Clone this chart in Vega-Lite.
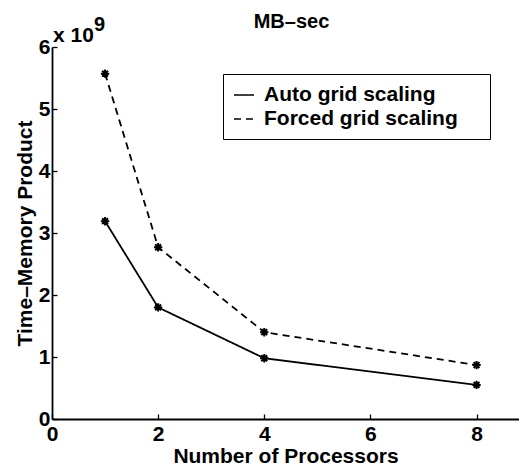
{
  "$schema": "https://vega.github.io/schema/vega-lite/v6.json",
  "width": 467,
  "height": 372,
  "autosize": {"type": "none"},
  "padding": {"left": 52, "top": 47, "right": 0, "bottom": 55},
  "background": "white",
  "title": {"text": "MB\u2013sec", "fontSize": 20, "font": "Liberation Sans", "fontWeight": "bold", "color": "black", "offset": -17, "anchor": "middle", "frame": "group", "dx": 6},
  "config": {"view": {"stroke": null}, "font": "Liberation Sans"},
  "data": {"values": [
    {"n": 1, "v": 3.19e9, "s": "Auto grid scaling"},
    {"n": 2, "v": 1.80e9, "s": "Auto grid scaling"},
    {"n": 4, "v": 0.98e9, "s": "Auto grid scaling"},
    {"n": 8, "v": 0.55e9, "s": "Auto grid scaling"},
    {"n": 1, "v": 5.57e9, "s": "Forced grid scaling"},
    {"n": 2, "v": 2.77e9, "s": "Forced grid scaling"},
    {"n": 4, "v": 1.40e9, "s": "Forced grid scaling"},
    {"n": 8, "v": 0.87e9, "s": "Forced grid scaling"}
  ]},
  "layer": [
    {
      "mark": {"type": "line", "color": "black", "strokeWidth": 1.8},
      "encoding": {
        "x": {"field": "n", "type": "quantitative", "scale": {"domain": [0, 8.8], "nice": false},
          "axis": {"values": [0, 2, 4, 6, 8], "title": "Number of Processors", "titleFontSize": 21, "titleFontWeight": "bold", "titleColor": "black", "titlePadding": 1,
            "labelFontSize": 21, "labelFontWeight": "bold", "labelColor": "black", "labelPadding": 9, "tickSize": -5, "tickColor": "black", "domainColor": "black", "domainWidth": 1.8, "tickWidth": 1.3, "grid": false, "labelFlush": false}},
        "y": {"field": "v", "type": "quantitative", "scale": {"domain": [0, 6e9], "nice": false},
          "axis": {"values": [0, 1e9, 2e9, 3e9, 4e9, 5e9, 6e9], "labelExpr": "format(datum.value/1e9, 'd')", "title": "Time\u2013Memory Product", "titleFontSize": 21, "titleFontWeight": "bold", "titleColor": "black", "titlePadding": 3,
            "labelFontSize": 21, "labelFontWeight": "bold", "labelColor": "black", "labelPadding": 7, "tickSize": -5, "tickColor": "black", "domainColor": "black", "domainWidth": 1.8, "tickWidth": 1.3, "grid": false, "labelFlush": false}},
        "strokeDash": {"field": "s", "type": "nominal", "scale": {"domain": ["Auto grid scaling", "Forced grid scaling"], "range": [[1, 0], [7, 5]]},
          "legend": {"title": "\u00a0", "titleOrient": "right", "titlePadding": 22, "orient": "none", "legendX": 171, "legendY": 27, "strokeColor": "black", "fillColor": "white", "padding": 10, "labelFontSize": 21, "labelFontWeight": "bold", "labelColor": "black", "labelLimit": 400, "symbolType": "stroke", "symbolSize": 400, "symbolStrokeWidth": 1.6, "symbolStrokeColor": "black", "symbolDash": [1, 0], "rowPadding": 3, "labelOffset": 9}}
      }
    },
    {
      "mark": {"type": "point", "shape": "M-1,0L1,0M0,-1L0,1M-0.7,-0.7L0.7,0.7M-0.7,0.7L0.7,-0.7", "filled": false, "stroke": "black", "strokeWidth": 2, "size": 70, "opacity": 1},
      "encoding": {
        "x": {"field": "n", "type": "quantitative"},
        "y": {"field": "v", "type": "quantitative"}
      }
    },
    {
      "data": {"values": [{"n": 0, "v": 6e9, "t": "x 10"}]},
      "mark": {"type": "text", "align": "left", "baseline": "alphabetic", "dx": 1, "dy": -5, "fontSize": 21, "fontWeight": "bold", "color": "black"},
      "encoding": {
        "x": {"field": "n", "type": "quantitative"},
        "y": {"field": "v", "type": "quantitative"},
        "text": {"field": "t"}
      }
    },
    {
      "data": {"values": [{"n": 0, "v": 6e9, "t": "9"}]},
      "mark": {"type": "text", "align": "left", "baseline": "alphabetic", "dx": 42, "dy": -16, "fontSize": 20, "fontWeight": "bold", "color": "black"},
      "encoding": {
        "x": {"field": "n", "type": "quantitative"},
        "y": {"field": "v", "type": "quantitative"},
        "text": {"field": "t"}
      }
    }
  ]
}
